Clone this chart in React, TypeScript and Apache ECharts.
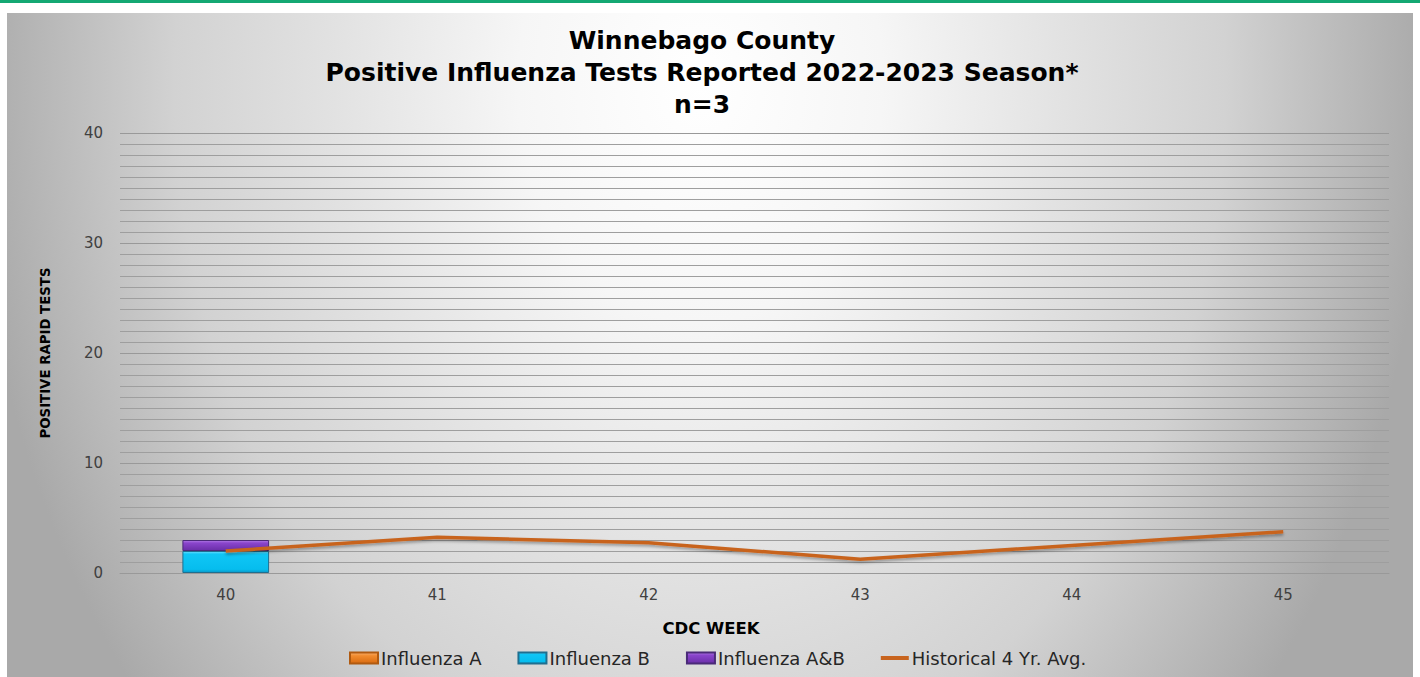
import React, { useEffect, useRef } from "react";
import * as echarts from "echarts";

const weeks = ["40", "41", "42", "43", "44", "45"];
const influenzaA = [0, 0, 0, 0, 0, 0];
const influenzaB = [2, 0, 0, 0, 0, 0];
const influenzaAB = [1, 0, 0, 0, 0, 0];
const historicalAvg = [2.0, 3.25, 2.75, 1.25, 2.5, 3.75];

const titleLines = [
  "Winnebago County",
  "Positive Influenza Tests Reported 2022-2023 Season*",
  "n=3",
];

const FONT = "'DejaVu Sans', 'Open Sans', sans-serif";

// zero counts draw no bar
const nonZero = (arr: number[]) => arr.map((v) => (v === 0 ? null : v));

export default function App() {
  const ref = useRef<HTMLDivElement>(null);

  useEffect(() => {
    if (!ref.current) return;
    const chart = echarts.init(ref.current, null, { renderer: "svg" });
    const vgrad = (stops: [number, string][]) =>
      new echarts.graphic.LinearGradient(
        0,
        0,
        0,
        1,
        stops.map(([offset, color]) => ({ offset, color }))
      );
    chart.setOption({
      animation: false,
      backgroundColor: "transparent",
      title: {
        text: titleLines.join("\n"),
        left: 695,
        textAlign: "center",
        top: 11,
        padding: 0,
        textStyle: {
          fontFamily: FONT,
          fontWeight: "bold",
          fontSize: 25,
          lineHeight: 32,
          color: "#000000",
        },
      },
      legend: {
        left: 337,
        top: 631,
        itemWidth: 28,
        itemHeight: 11,
        itemGap: 36,
        textStyle: { fontFamily: FONT, fontSize: 18, color: "#262626", padding: [0, 0, 0, -2] },
        data: [
          { name: "Influenza A", icon: "rect" },
          { name: "Influenza B", icon: "rect" },
          { name: "Influenza A&B", icon: "rect" },
          {
            name: "Historical 4 Yr. Avg.",
            icon: "path://M0,0 M28,11 M0,3.5 L28,3.5 L28,7.5 L0,7.5 Z",
          },
        ],
      },
      grid: { left: 113, right: 24, top: 120, bottom: 104 },
      xAxis: {
        type: "category",
        data: weeks,
        axisTick: { show: false },
        axisLine: { show: true, lineStyle: { color: "#999999", width: 1 } },
        axisLabel: {
          fontFamily: FONT,
          fontSize: 15,
          color: "#404040",
          margin: 14,
        },
        name: "CDC WEEK",
        nameLocation: "middle",
        nameGap: 47,
        nameTextStyle: {
          fontFamily: FONT,
          fontWeight: "bold",
          fontSize: 16.5,
          color: "#000000",
          padding: [0, 87, 0, 0],
        },
      },
      yAxis: {
        type: "value",
        min: 0,
        max: 40,
        interval: 10,
        axisLine: { show: false },
        axisTick: { show: false },
        axisLabel: {
          fontFamily: FONT,
          fontSize: 15,
          color: "#404040",
          margin: 17,
        },
        splitLine: { show: true, lineStyle: { color: "#999999", width: 1 } },
        minorTick: { show: false, splitNumber: 10 },
        minorSplitLine: { show: true, lineStyle: { color: "#9e9e9e", width: 1 } },
        name: "POSITIVE RAPID TESTS",
        nameLocation: "middle",
        nameRotate: 90,
        nameGap: 68,
        nameTextStyle: {
          fontFamily: "'Liberation Sans Narrow', 'DejaVu Sans Condensed', 'Liberation Sans', sans-serif",
          fontWeight: "bold",
          fontSize: 14.8,
          color: "#000000",
        },
      },
      series: [
        {
          name: "Influenza A",
          type: "bar",
          stack: "flu",
          barWidth: "41%",
          data: nonZero(influenzaA),
          itemStyle: {
            color: vgrad([
              [0, "#f9b070"],
              [0.3, "#f28c2e"],
              [1, "#d86a10"],
            ]),
            borderColor: "#b05a10",
            borderWidth: 1,
          },
        },
        {
          name: "Influenza B",
          type: "bar",
          stack: "flu",
          barWidth: "41%",
          data: nonZero(influenzaB),
          itemStyle: {
            color: vgrad([
              [0, "#6ee0ff"],
              [0.12, "#10c6f6"],
              [0.85, "#06bdee"],
              [1, "#0a98c8"],
            ]),
            borderColor: "#1f6f90",
            borderWidth: 1,
          },
        },
        {
          name: "Influenza A&B",
          type: "bar",
          stack: "flu",
          barWidth: "41%",
          data: nonZero(influenzaAB),
          itemStyle: {
            color: vgrad([
              [0, "#b27ae6"],
              [0.25, "#8a45cc"],
              [1, "#6a2ea8"],
            ]),
            borderColor: "#4a2a78",
            borderWidth: 1,
          },
        },
        {
          name: "Historical 4 Yr. Avg.",
          type: "line",
          data: historicalAvg,
          symbol: "none",
          z: 5,
          itemStyle: { color: "#c8641e" },
          lineStyle: {
            color: "#c8641e",
            width: 3.5,
            shadowColor: "rgba(0,0,0,0.35)",
            shadowBlur: 3,
            shadowOffsetY: 2,
          },
        },
      ],
    });
    return () => chart.dispose();
  }, []);

  return (
    <div
      style={{
        position: "fixed",
        left: 0,
        top: 0,
        width: 1420,
        height: 677,
        background: "#ffffff",
        overflow: "hidden",
      }}
    >
      <div
        style={{
          position: "absolute",
          left: 0,
          top: 0,
          width: 1420,
          height: 3,
          background: "#14a873",
        }}
      />
      <div
        ref={ref}
        style={{
          position: "absolute",
          left: 7,
          top: 13,
          width: 1406,
          height: 664,
          background:
            "radial-gradient(ellipse 730px 960px at 693px 70px, #ffffff 0%, #f6f6f6 25%, #e2e2e2 50%, #d2d2d2 72%, #a9a9a9 100%)",
        }}
      />
    </div>
  );
}
